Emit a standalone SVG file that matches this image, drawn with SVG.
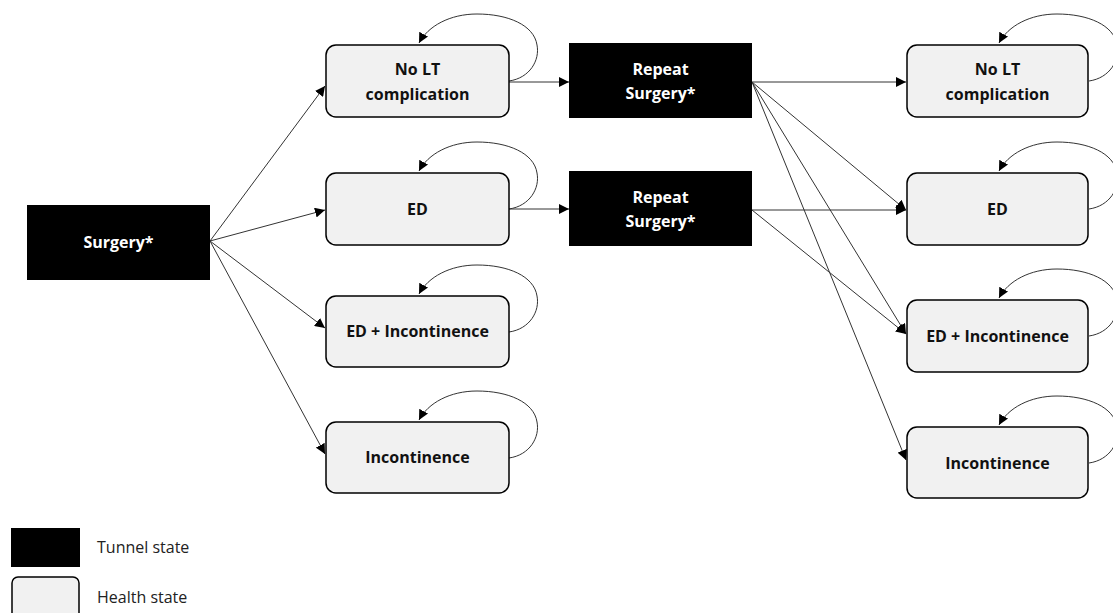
<svg xmlns="http://www.w3.org/2000/svg" width="1113" height="613" viewBox="0 0 1113 613">
  <defs>
    <marker id="arrow" viewBox="0 0 10 10" refX="10" refY="5" markerWidth="10" markerHeight="10" markerUnits="userSpaceOnUse" orient="auto">
      <path d="M0,0 L10,5 L0,10 z" fill="#000"/>
    </marker>
    <style>
      .tunnel { fill: #000; }
      .tunnel-text { fill: #fff; font-family: "Open Sans", "DejaVu Sans", sans-serif; font-weight: 700; font-size: 16px; text-anchor: middle; }
      .health { fill: #f1f1f1; stroke: #000; stroke-width: 1.5; }
      .health-text { fill: #111; font-family: "Open Sans", "DejaVu Sans", sans-serif; font-weight: 700; font-size: 16px; text-anchor: middle; }
      .edge { fill: none; stroke: #333; stroke-width: 1; marker-end: url(#arrow); }
      .legend-text { fill: #222; font-family: "Open Sans", "DejaVu Sans", sans-serif; font-size: 16px; }
    </style>
  </defs>

  <g id="connectors">
    <!-- Surgery to first-cycle states -->
    <line class="edge" x1="210" y1="241" x2="325" y2="86"/>
    <line class="edge" x1="210" y1="241" x2="325" y2="210"/>
    <line class="edge" x1="210" y1="241" x2="325" y2="328"/>
    <line class="edge" x1="210" y1="241" x2="325" y2="454"/>
    <!-- into repeat surgery -->
    <line class="edge" x1="509" y1="82" x2="569" y2="82"/>
    <line class="edge" x1="509" y1="209" x2="569" y2="209"/>
    <!-- repeat surgery to subsequent states -->
    <line class="edge" x1="752" y1="82" x2="906" y2="82"/>
    <line class="edge" x1="752" y1="82" x2="906" y2="210"/>
    <line class="edge" x1="752" y1="82" x2="906" y2="334"/>
    <line class="edge" x1="752" y1="82" x2="906" y2="460"/>
    <line class="edge" x1="752" y1="210" x2="906" y2="210"/>
    <line class="edge" x1="752" y1="210" x2="906" y2="334"/>
    <!-- self loops, left column -->
    <path class="edge" d="M509,81 C530,78 540,60 537,45 C534,25 508,14 477,14 C450,14 428,26 419,43"/>
    <path class="edge" d="M509,209 C530,206 540,188 537,173 C534,153 508,142 477,142 C450,142 428,154 419,171"/>
    <path class="edge" d="M509,332 C530,329 540,311 537,296 C534,276 508,265 477,265 C450,265 428,277 419,294"/>
    <path class="edge" d="M509,458 C530,455 540,437 537,422 C534,402 508,391 477,391 C450,391 428,403 419,420"/>
    <!-- self loops, right column -->
    <path class="edge" d="M1089,81 C1110,78 1120,60 1117,45 C1114,25 1088,14 1057,14 C1030,14 1008,26 999,43"/>
    <path class="edge" d="M1089,209 C1110,206 1120,188 1117,173 C1114,153 1088,142 1057,142 C1030,142 1008,154 999,171"/>
    <path class="edge" d="M1089,336 C1110,333 1120,315 1117,300 C1114,280 1088,269 1057,269 C1030,269 1008,281 999,298"/>
    <path class="edge" d="M1089,463 C1110,460 1120,442 1117,427 C1114,407 1088,396 1057,396 C1030,396 1008,408 999,425"/>
  </g>

  <g id="surgery">
    <rect class="tunnel" x="27" y="205" width="183" height="75"/>
    <text class="tunnel-text" x="118.5" y="248">Surgery*</text>
  </g>

  <g id="no-lt-1">
    <rect class="health" x="326" y="45" width="183" height="72" rx="10"/>
    <text class="health-text" x="417.5" y="75">No LT</text>
    <text class="health-text" x="417.5" y="100">complication</text>
  </g>
  <g id="ed-1">
    <rect class="health" x="326" y="173" width="183" height="72" rx="10"/>
    <text class="health-text" x="417.5" y="215">ED</text>
  </g>
  <g id="ed-inc-1">
    <rect class="health" x="326" y="296" width="183" height="71" rx="10"/>
    <text class="health-text" x="417.5" y="337">ED + Incontinence</text>
  </g>
  <g id="inc-1">
    <rect class="health" x="326" y="422" width="183" height="71" rx="10"/>
    <text class="health-text" x="417.5" y="463">Incontinence</text>
  </g>

  <g id="repeat-1">
    <rect class="tunnel" x="569" y="43" width="183" height="75"/>
    <text class="tunnel-text" x="660.5" y="75">Repeat</text>
    <text class="tunnel-text" x="660.5" y="99">Surgery*</text>
  </g>
  <g id="repeat-2">
    <rect class="tunnel" x="569" y="171" width="183" height="75"/>
    <text class="tunnel-text" x="660.5" y="203">Repeat</text>
    <text class="tunnel-text" x="660.5" y="227">Surgery*</text>
  </g>

  <g id="no-lt-2">
    <rect class="health" x="907" y="45" width="181" height="72" rx="10"/>
    <text class="health-text" x="997.5" y="75">No LT</text>
    <text class="health-text" x="997.5" y="100">complication</text>
  </g>
  <g id="ed-2">
    <rect class="health" x="907" y="173" width="181" height="72" rx="10"/>
    <text class="health-text" x="997.5" y="215">ED</text>
  </g>
  <g id="ed-inc-2">
    <rect class="health" x="907" y="300" width="181" height="72" rx="10"/>
    <text class="health-text" x="997.5" y="342">ED + Incontinence</text>
  </g>
  <g id="inc-2">
    <rect class="health" x="907" y="427" width="181" height="71" rx="10"/>
    <text class="health-text" x="997.5" y="469">Incontinence</text>
  </g>

  <g id="legend">
    <rect class="tunnel" x="11" y="528" width="69" height="39"/>
    <text class="legend-text" x="97" y="553">Tunnel state</text>
    <rect class="health" x="12" y="577" width="67" height="50" rx="6"/>
    <text class="legend-text" x="97" y="603">Health state</text>
  </g>
</svg>
